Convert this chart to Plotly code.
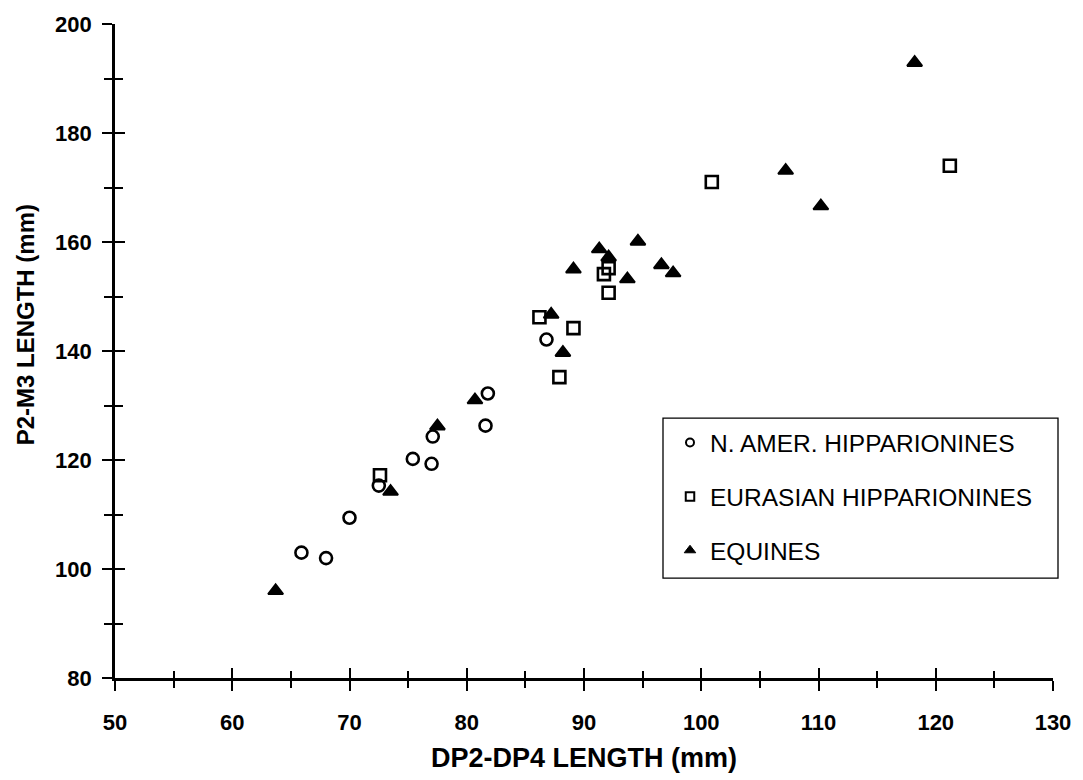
import plotly.graph_objects as go

# ---- data ----
amer_x = [65.9, 68.0, 70.0, 72.5, 75.4, 77.0, 77.1, 81.6, 81.8, 86.8]
amer_y = [103.0, 102.0, 109.4, 115.3, 120.2, 119.3, 124.3, 126.3, 132.2, 142.1]

eur_x = [72.6, 86.2, 87.9, 89.1, 91.7, 92.1, 92.1, 100.9, 121.2]
eur_y = [117.2, 146.2, 135.2, 144.2, 154.1, 155.2, 150.7, 171.0, 174.0]

equ_x = [63.7, 73.5, 77.5, 80.7, 87.2, 88.2, 89.1, 91.3, 92.1, 93.7, 94.6,
         96.6, 97.6, 107.2, 110.2, 118.2]
equ_y = [96.0, 114.2, 126.2, 131.0, 146.7, 139.7, 155.0, 158.7, 157.2, 153.2,
         160.1, 155.8, 154.3, 173.1, 166.6, 192.9]

series_names = ["N. AMER. HIPPARIONINES", "EURASIAN HIPPARIONINES", "EQUINES"]
x_title = "DP2-DP4 LENGTH (mm)"
y_title = "P2-M3 LENGTH (mm)"

FONT = "Liberation Sans, Arial, sans-serif"

symbols = ["circle-open", "square-open", "triangle-up"]
plot_sizes = [12, 12, 13]
plot_lw = [2.6, 2.6, 2]
legend_sizes = [8, 8.5, 10]
legend_lw = [2, 2, 1]
xs = [amer_x, eur_x, equ_x]
ys = [amer_y, eur_y, equ_y]

fig = go.Figure()
for i in range(3):
    fig.add_trace(go.Scatter(
        x=xs[i], y=ys[i], mode="markers", name=series_names[i],
        legendgroup=f"g{i}", showlegend=False,
        marker=dict(symbol=symbols[i], size=plot_sizes[i], color="black",
                    line=dict(width=plot_lw[i], color="black"))))
# legend entries (smaller key symbols, as in the reference)
for i in range(3):
    fig.add_trace(go.Scatter(
        x=[None], y=[None], mode="markers", name=series_names[i],
        legendgroup=f"g{i}", showlegend=True, hoverinfo="skip",
        marker=dict(symbol=symbols[i], size=legend_sizes[i], color="black",
                    line=dict(width=legend_lw[i], color="black"))))
# empty trace that activates the overlay axes (inner half of crossing ticks)
fig.add_trace(go.Scatter(x=[], y=[], xaxis="x2", yaxis="y2",
                         showlegend=False, hoverinfo="skip"))

axis_common = dict(showgrid=False, zeroline=False)
TW = 2.4

L, R, T, B = 115, 30, 20, 98
W, H = 1083, 780
pw, ph = W - L - R, H - T - B


def px_x(p):
    return (p - L) / pw


def px_y(p):
    return (H - B - p) / ph


fig.update_layout(
    width=W, height=H,
    paper_bgcolor="white", plot_bgcolor="white",
    margin=dict(l=L, r=R, t=T, b=B),
    font=dict(family=FONT, color="black"),
    xaxis=dict(
        range=[50, 130], dtick=10, tick0=50, ticks="outside", ticklen=10,
        tickwidth=TW, tickcolor="black",
        minor=dict(dtick=5, ticks="outside", ticklen=7, tickwidth=TW,
                   tickcolor="black"),
        showline=True, linecolor="black", linewidth=2.6,
        tickfont=dict(family=FONT, size=22, weight="bold"),
        ticklabelstandoff=13,
        title=dict(text=x_title, font=dict(family=FONT, size=27, weight="bold"),
                   standoff=14),
        **axis_common),
    yaxis=dict(
        range=[80, 200], dtick=20, tick0=80, ticks="outside", ticklen=10,
        tickwidth=TW, tickcolor="black",
        minor=dict(dtick=10, ticks="outside", ticklen=8, tickwidth=TW,
                   tickcolor="black"),
        showline=True, linecolor="black", linewidth=2.6,
        tickfont=dict(family=FONT, size=22, weight="bold"),
        ticklabelstandoff=6,
        **axis_common),
    xaxis2=dict(
        overlaying="x", anchor="y", range=[50, 130], dtick=10, tick0=50,
        ticks="inside", ticklen=10, tickwidth=TW, tickcolor="black",
        minor=dict(dtick=5, ticks="inside", ticklen=7, tickwidth=TW,
                   tickcolor="black"),
        showticklabels=False, showline=False, **axis_common),
    yaxis2=dict(
        overlaying="y", anchor="x", range=[80, 200], dtick=20, tick0=80,
        ticks="inside", ticklen=10, tickwidth=TW, tickcolor="black",
        minor=dict(dtick=10, ticks="inside", ticklen=8, tickwidth=TW,
                   tickcolor="black"),
        showticklabels=False, showline=False, **axis_common),
    legend=dict(
        x=px_x(670), y=px_y(421), xanchor="left", yanchor="top",
        bgcolor="rgba(0,0,0,0)", borderwidth=0,
        font=dict(family=FONT, size=24.5, color="black"),
        tracegroupgap=19),
    shapes=[dict(
        type="rect", xref="paper", yref="paper",
        x0=px_x(663), x1=px_x(1058), y0=px_y(581), y1=px_y(419),
        line=dict(color="black", width=1.3), fillcolor="white", layer="above")],
    annotations=[dict(
        text=y_title, textangle=-90, showarrow=False,
        xref="paper", yref="paper", x=px_x(25), y=px_y(325),
        xanchor="center", yanchor="middle",
        font=dict(family=FONT, size=24, weight="bold", color="black"))],
)

# remove the default 8px page margin so the figure sits at the window origin
fig.write_html("out.html", config={"displayModeBar": False},
               post_script="document.body.style.margin='0';")
